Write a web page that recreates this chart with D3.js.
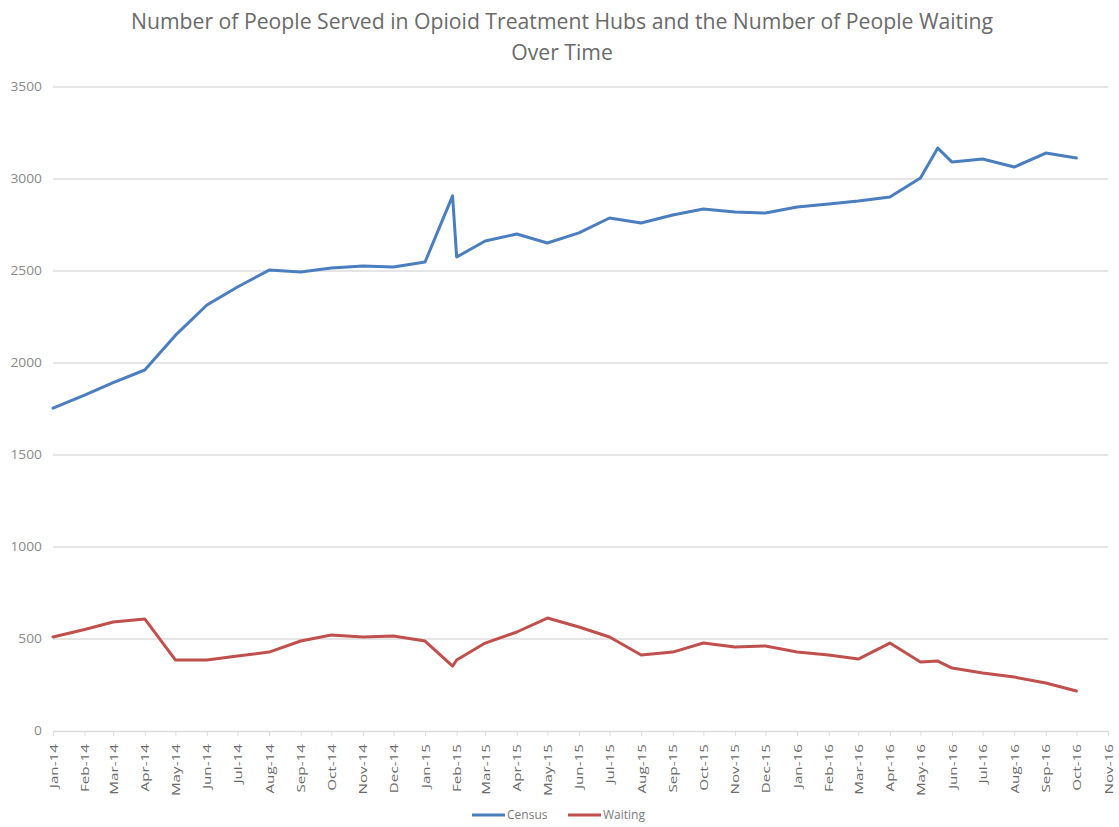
<!DOCTYPE html>
<html><head><meta charset="utf-8">
<script src="https://cdn.jsdelivr.net/npm/d3@7"></script>
<style>body{margin:0;background:#fff}svg{display:block}</style>
</head><body>
<svg id="chart" width="1119" height="827"></svg>
<script>
const dates = ["2014-01-01","2014-02-01","2014-03-01","2014-04-01","2014-05-01","2014-06-01","2014-07-01","2014-08-01","2014-09-01","2014-10-01","2014-11-01","2014-12-01","2015-01-01","2015-01-28","2015-02-01","2015-03-01","2015-04-01","2015-05-01","2015-06-01","2015-07-01","2015-08-01","2015-09-01","2015-10-01","2015-11-01","2015-12-01","2016-01-01","2016-02-01","2016-03-01","2016-04-01","2016-05-01","2016-05-18","2016-06-01","2016-07-01","2016-08-01","2016-09-01","2016-10-01"];
const census = [1755,1825,1893,1962,2150,2315,2413,2505,2495,2516,2527,2522,2549,2908,2576,2663,2701,2652,2707,2788,2761,2804,2837,2821,2815,2848,2864,2880,2902,3005,3168,3092,3109,3065,3141,3114];
const waiting = [511,552,592,609,386,386,408,429,489,522,511,516,489,353,386,478,538,614,565,511,413,429,478,456,462,429,413,391,478,375,380,342,315,293,261,217];
const yTicks = [0,500,1000,1500,2000,2500,3000,3500];
const seriesNames = ["Census","Waiting"];
const seriesColors = ["#4a7ebf","#c0504d"];
const titleLines = ["Number of People Served in Opioid Treatment Hubs and the Number of People Waiting","Over Time"];

const svg = d3.select("#chart");
const parse = d3.timeParse("%Y-%m-%d");
const dts = dates.map(parse);
const x = d3.scaleTime().domain([new Date(2014,0,1), new Date(2016,10,1)]).range([53, 1108]);
const y = d3.scaleLinear().domain([0,3500]).range([731, 87]);
const font = "'Open Sans', 'Noto Sans', sans-serif";

// title
svg.append("g").selectAll("text").data(titleLines).join("text")
  .attr("x", 562).attr("y", (d,i)=>29 + i*31)
  .attr("text-anchor","middle").attr("font-family",font).attr("font-size",21.2)
  .attr("fill","#6a6a6a").text(d=>d);

// grid
svg.append("g").selectAll("line").data(yTicks.filter(d=>d>0)).join("line")
  .attr("x1",53).attr("x2",1108).attr("y1",d=>y(d)).attr("y2",d=>y(d))
  .attr("stroke","#dcdcdc").attr("stroke-width",1.5);

// y axis labels
const yAxis = d3.axisLeft(y).tickValues(yTicks).tickFormat(d3.format("d")).tickSize(0).tickPadding(0);
const yg = svg.append("g").attr("transform","translate(42,0)").call(yAxis);
yg.select(".domain").remove();
yg.selectAll("text").attr("font-family",font).attr("font-size",12).attr("fill","#8a8a8a")
  .attr("transform","scale(1.15,1)").attr("x",0);

// x axis
const months = d3.timeMonth.range(new Date(2014,0,1), new Date(2016,10,2));
const xAxis = d3.axisBottom(x).tickValues(months).tickFormat(d3.timeFormat("%b-%y")).tickSize(5).tickSizeOuter(0);
const xg = svg.append("g").attr("transform","translate(0,731)").call(xAxis);
xg.select(".domain").attr("stroke","#dcdcdc").attr("stroke-width",1.5);
xg.selectAll(".tick line").attr("stroke","#dcdcdc");
xg.selectAll("text").attr("font-family",font).attr("font-size",10.5).attr("fill","#6a6a6a")
  .attr("text-anchor","end").attr("transform","rotate(-90) scale(1.45,1)").attr("dx","-9").attr("dy","0").attr("x",0).attr("y",0)
  .style("dominant-baseline","central");

// lines
const series = [census, waiting];
const line = d3.line().x((d,i)=>x(dts[i])).y(d=>y(d));
svg.append("g").selectAll("path").data(series).join("path")
  .attr("d", d=>line(d)).attr("fill","none")
  .attr("stroke",(d,i)=>seriesColors[i]).attr("stroke-width",3)
  .attr("stroke-linejoin","round").attr("stroke-linecap","round");

// legend
const legX = [472, 568];
const lg = svg.append("g");
seriesNames.forEach((n,i)=>{
  lg.append("line").attr("x1",legX[i]).attr("x2",legX[i]+33).attr("y1",815).attr("y2",815)
    .attr("stroke",seriesColors[i]).attr("stroke-width",3);
  lg.append("text").attr("x",legX[i]+35).attr("y",819).attr("font-family",font).attr("font-size",12)
    .attr("fill","#7a7a7a").text(n);
});
</script>
</body></html>
